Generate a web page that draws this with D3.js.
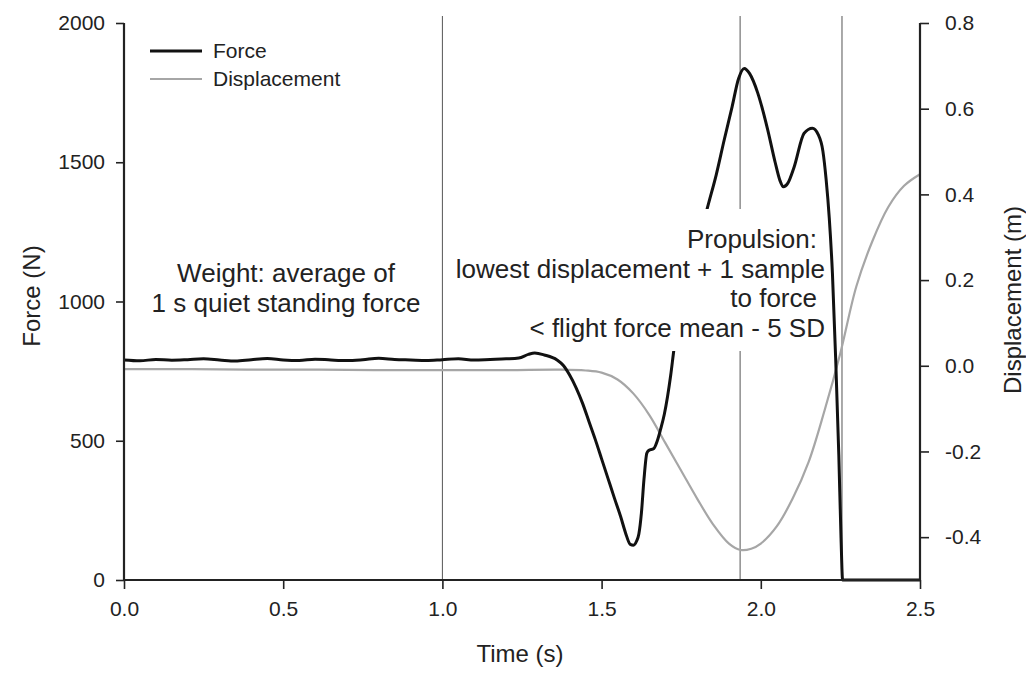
<!DOCTYPE html>
<html>
<head>
<meta charset="utf-8">
<title>Force and displacement during a jump</title>
<script src="https://d3js.org/d3.v7.min.js"></script>
<style>
  body { margin: 0; background: #fff; }
  text { font-family: "Liberation Sans", Arial, sans-serif; fill: #222; }
</style>
</head>
<body>
<div id="chart"></div>
<script>
// time (s) and force (N)
var forceTime = [0.00, 0.05, 0.10, 0.15, 0.20, 0.25, 0.30, 0.35, 0.40, 0.45, 0.50, 0.55, 0.60,
                 0.65, 0.70, 0.75, 0.80, 0.85, 0.90, 0.95, 1.00, 1.05, 1.10, 1.15, 1.20,
                 1.24, 1.27, 1.29, 1.32, 1.36, 1.38, 1.40, 1.42, 1.44, 1.46, 1.48, 1.50, 1.52,
                 1.54, 1.56, 1.575, 1.59, 1.60, 1.61, 1.617, 1.625, 1.633, 1.642, 1.648, 1.664,
                 1.675, 1.685, 1.697, 1.707, 1.717, 1.727, 1.78, 1.832, 1.86, 1.885, 1.91, 1.93,
                 1.948, 1.965, 1.99, 2.021, 2.045, 2.06, 2.071, 2.085, 2.105, 2.136, 2.162, 2.18,
                 2.195, 2.205, 2.215, 2.225, 2.235, 2.245, 2.252, 2.257, 2.30, 2.40, 2.50];
var forceValues = [790, 787, 792, 789, 791, 794, 790, 786, 791, 795, 790, 788, 793,
                   790, 788, 791, 796, 792, 790, 788, 791, 794, 790, 792, 794,
                   797, 810, 815, 808, 790, 770, 735, 690, 635, 570, 505, 435, 365,
                   295, 227, 170, 128, 125, 140, 165, 240, 360, 455, 465, 472,
                   500, 540, 595, 658, 735, 826, 1080, 1335, 1455, 1580, 1700, 1800,
                   1837, 1818, 1750, 1620, 1500, 1435, 1412, 1425, 1484, 1604, 1622, 1600,
                   1540, 1440, 1300, 1100, 800, 450, 150, 0, 0, 0, 0];

// time (s) and displacement (m)
var dispTime = [0.0, 0.2, 0.4, 0.6, 0.8, 1.0, 1.2, 1.37, 1.45, 1.5, 1.55, 1.6, 1.65, 1.7,
                1.75, 1.8, 1.85, 1.9, 1.937, 1.97, 2.0, 2.05, 2.1, 2.15, 2.2, 2.25,
                2.3, 2.35, 2.4, 2.45, 2.5];
var dispValues = [-0.008, -0.008, -0.009, -0.009, -0.01, -0.01, -0.01, -0.009, -0.011, -0.016,
                  -0.032, -0.065, -0.115, -0.18, -0.245, -0.31, -0.37, -0.415, -0.43, -0.427,
                  -0.415, -0.375, -0.31, -0.225, -0.105, 0.03, 0.185, 0.29, 0.37, 0.42, 0.447];

var markerTimes = [1.0, 1.935, 2.255];
var timeTicks = [0, 0.5, 1.0, 1.5, 2.0, 2.5];
var forceTicks = [0, 500, 1000, 1500, 2000];
var dispTicks = [-0.4, -0.2, 0.0, 0.2, 0.4, 0.6, 0.8];
var legendNames = ["Force", "Displacement"];
var weightText = ["Weight: average of", "1 s quiet standing force"];
var propulsionText = ["Propulsion:", "lowest displacement + 1 sample", "to force", "< flight force mean - 5 SD"];
var propulsionRight = [817, 825, 817, 825];

var width = 1026, height = 673;
var x = d3.scaleLinear().domain([0, 2.5]).range([124, 920]);
var yF = d3.scaleLinear().domain([0, 2000]).range([580, 23]);
var yD = d3.scaleLinear().domain([-0.5, 0.8]).range([580, 23]);

var svg = d3.select("#chart").append("svg")
    .attr("width", width).attr("height", height);

// vertical marker lines
svg.selectAll(".marker").data(markerTimes).enter().append("line")
    .attr("class", "marker")
    .attr("x1", function (d) { return x(d); })
    .attr("x2", function (d) { return x(d); })
    .attr("y1", 16).attr("y2", yF(0))
    .style("stroke", "#555").style("stroke-width", 1);

var forceData = forceTime.map(function (t, i) { return [t, forceValues[i]]; });
var dispData = dispTime.map(function (t, i) { return [t, dispValues[i]]; });

svg.append("path").datum(dispData)
    .attr("d", d3.line().x(function (d) { return x(d[0]); }).y(function (d) { return yD(d[1]); })
        .curve(d3.curveCatmullRom.alpha(0.5)))
    .style("fill", "none").style("stroke", "#a6a6a6").style("stroke-width", 2.2);

svg.append("path").datum(forceData)
    .attr("d", d3.line().x(function (d) { return x(d[0]); }).y(function (d) { return yF(d[1]); })
        .curve(d3.curveMonotoneX))
    .style("fill", "none").style("stroke", "#111").style("stroke-width", 3);

// axes
var fmt1 = function (d) { return d3.format(".1f")(d).replace("\u2212", "-"); };
var xAxis = svg.append("g").attr("transform", "translate(0," + yF(0) + ")")
    .call(d3.axisBottom(x).tickValues(timeTicks).tickFormat(fmt1).tickSize(9).tickPadding(12));
var leftAxis = svg.append("g").attr("transform", "translate(" + x(0) + ",0)")
    .call(d3.axisLeft(yF).tickValues(forceTicks).tickFormat(d3.format("d")).tickSize(8).tickPadding(11));
var rightAxis = svg.append("g").attr("transform", "translate(" + x(2.5) + ",0)")
    .call(d3.axisRight(yD).tickValues(dispTicks).tickFormat(fmt1).tickSize(9).tickPadding(16));

[xAxis, leftAxis, rightAxis].forEach(function (g) {
    g.select(".domain").style("stroke", "#222").style("stroke-width", 2.2);
    g.selectAll(".tick line").style("stroke", "#222").style("stroke-width", 1.6);
    g.selectAll(".tick text").style("font-size", "21px").style("fill", "#222")
        .style("font-family", "'Liberation Sans', Arial, sans-serif");
});
// d3 draws outer ticks; drop them so the axes end flat like the original
xAxis.select(".domain").attr("d", "M" + x(0) + ",0H" + x(2.5));
leftAxis.select(".domain").attr("d", "M0," + yF(0) + "V" + yF(2000));
rightAxis.select(".domain").attr("d", "M0," + yD(-0.5) + "V" + yD(0.8));

// axis titles
svg.append("text").attr("x", 520).attr("y", 662).attr("text-anchor", "middle")
    .style("font-size", "24px").text("Time (s)");
svg.append("text").attr("transform", "translate(40,296) rotate(-90)").attr("text-anchor", "middle")
    .style("font-size", "24px").text("Force (N)");
svg.append("text").attr("transform", "translate(1021,300) rotate(-90)").attr("text-anchor", "middle")
    .style("font-size", "24px").text("Displacement (m)");

// legend
var legend = svg.append("g");
legendNames.forEach(function (name, i) {
    var ly = 51 + i * 28;
    legend.append("line").attr("x1", 150).attr("x2", 202).attr("y1", ly).attr("y2", ly)
        .style("stroke", i === 0 ? "#111" : "#a6a6a6").style("stroke-width", i === 0 ? 3 : 2.2);
    legend.append("text").attr("x", 213).attr("y", ly + 7).style("font-size", "21px").text(name);
});

// annotations
svg.append("text").attr("text-anchor", "middle").style("font-size", "26px")
    .selectAll("tspan").data(weightText).enter().append("tspan")
    .attr("x", 286).attr("y", function (d, i) { return 282 + i * 29.5; })
    .text(function (d) { return d; });

svg.append("rect").attr("x", 446).attr("y", 209).attr("width", 380).attr("height", 142)
    .style("fill", "#fff");
svg.append("text").attr("text-anchor", "end").style("font-size", "26px")
    .selectAll("tspan").data(propulsionText).enter().append("tspan")
    .attr("x", function (d, i) { return propulsionRight[i]; })
    .attr("y", function (d, i) { return 248 + i * 29.6; })
    .text(function (d) { return d; });
</script>
</body>
</html>
